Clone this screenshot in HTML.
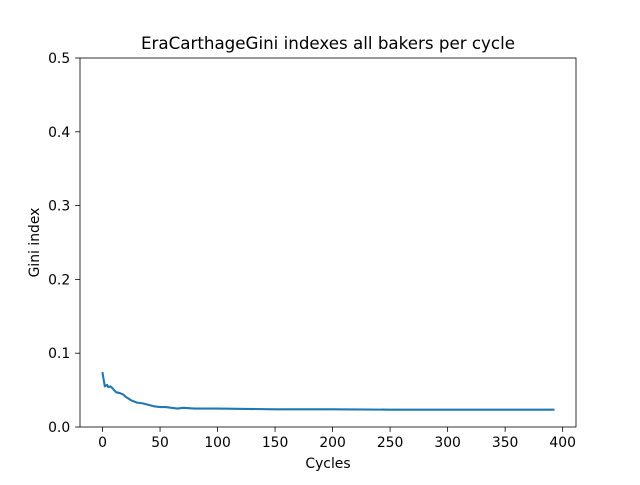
<!DOCTYPE html>
<html><head><meta charset="utf-8"><style>
body{margin:0;background:#fff}
text{font-family:"DejaVu Sans","Liberation Sans",sans-serif;fill:#000}
</style></head><body>
<svg id="chart" width="640" height="480" viewBox="0 0 640 480" xmlns="http://www.w3.org/2000/svg">
<rect width="640" height="480" fill="#fff"/>
<text x="328" y="49" font-size="16.7" text-anchor="middle">EraCarthageGini indexes all bakers per cycle</text>
<g id="ticks"></g>
<polyline id="line" fill="none" stroke="#1f77b4" stroke-width="2.08" stroke-linejoin="round" stroke-linecap="square"/>
<rect x="80" y="58" width="496" height="369" fill="none" stroke="#000" stroke-width="0.8"/>
<text x="328" y="468" font-size="13.9" text-anchor="middle">Cycles</text>
<text transform="translate(39,242.5) rotate(-90)" font-size="13.9" text-anchor="middle">Gini index</text>
</svg>
<script>
const cycles=[0,2,4,5,7,9,10,12,15,18,20,25,30,35,40,45,50,55,60,65,70,80,100,150,200,250,300,392];
const gini=[0.073,0.055,0.057,0.054,0.055,0.052,0.050,0.047,0.046,0.044,0.041,0.036,0.033,0.032,0.030,0.028,0.027,0.027,0.026,0.025,0.026,0.025,0.025,0.024,0.024,0.0235,0.0235,0.0235];
const xTicks=[0,50,100,150,200,250,300,350,400];
const yTicks=[0,0.1,0.2,0.3,0.4,0.5];
const yLabels=["0.0","0.1","0.2","0.3","0.4","0.5"];
const x0=80,x1=576,y0=427,y1=58,xmin=-19.6,xmax=411.6;
const X=v=>x0+(v-xmin)/(xmax-xmin)*(x1-x0);
const Y=v=>y0-(v/0.5)*(y0-y1);
const ns="http://www.w3.org/2000/svg",g=document.getElementById('ticks');
function mk(t,a){const e=document.createElementNS(ns,t);for(const k in a)e.setAttribute(k,a[k]);g.appendChild(e);return e;}
xTicks.forEach(v=>{const l=mk('line',{x1:X(v),x2:X(v),y1:y0,y2:y0+4.9,stroke:'#000','stroke-width':0.8});


const t=mk('text',{x:X(v),y:y0+20,'font-size':13.9,'text-anchor':'middle'});t.textContent=v;

});
yTicks.forEach((v,i)=>{const l=mk('line',{x1:x0-4.9,x2:x0,y1:Y(v),y2:Y(v),stroke:'#000','stroke-width':0.8});


const t=mk('text',{x:x0-9.8,y:Y(v)+5,'font-size':13.9,'text-anchor':'end'});t.textContent=yLabels[i];

});
document.getElementById('line').setAttribute('points',cycles.map((c,i)=>X(c)+','+Y(gini[i])).join(' '));
</script>
</body></html>
